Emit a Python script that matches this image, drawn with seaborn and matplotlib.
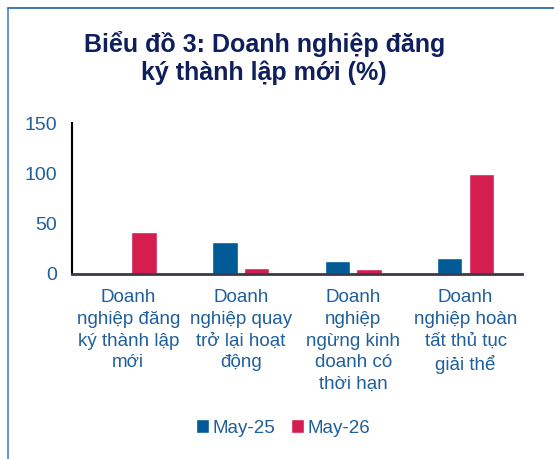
import pandas as pd
import matplotlib
matplotlib.use("Agg")
import matplotlib.pyplot as plt
import seaborn as sns
from matplotlib.lines import Line2D

categories = [
    "Doanh\nnghiệp đăng\nký thành lập\nmới",
    "Doanh\nnghiệp quay\ntrở lại hoạt\nđộng",
    "Doanh\nnghiệp\nngừng kinh\ndoanh có\nthời hạn",
    "Doanh\nnghiệp hoàn\ntất thủ tục\ngiải thể",
]
may25 = [0.3, 32, 12.5, 15.5]
may26 = [42, 5.5, 5, 99.5]
series = ["May-25", "May-26"]

df = pd.DataFrame({
    "cat": categories * 2,
    "val": may25 + may26,
    "series": [series[0]] * 4 + [series[1]] * 4,
})

sns.set_style("white")
plt.rcParams["font.family"] = ["Liberation Sans", "DejaVu Sans"]

blue_txt = "#1F5F9B"
pal = {"May-25": "#005A96", "May-26": "#D41E50"}

fig = plt.figure(figsize=(5.54, 4.59), dpi=100)
ax = fig.add_axes([0.130, 0.4037, 0.812, 0.3283])

sns.barplot(data=df, x="cat", y="val", hue="series", palette=pal,
            width=0.56, gap=0.2, ax=ax, saturation=1)

ax.set_ylim(0, 150)
ax.set_yticks([0, 50, 100, 150])
ax.set_xlabel("")
ax.set_ylabel("")
for s in ["top", "right"]:
    ax.spines[s].set_visible(False)
ax.spines["left"].set_color("black")
ax.spines["left"].set_linewidth(1.5)
ax.spines["bottom"].set_color("#3a3a48")
ax.spines["bottom"].set_linewidth(2)
ax.tick_params(axis="y", direction="inout", length=10, width=1.5, color="black",
               labelsize=14, labelcolor=blue_txt, pad=6)
ax.tick_params(axis="x", length=0, labelsize=13.5, labelcolor=blue_txt, pad=11)
for lbl in ax.get_xticklabels():
    lbl.set_linespacing(1.37)

handles, labels = ax.get_legend_handles_labels()
ax.legend_.remove()
fig.legend(handles, labels, loc="center", bbox_to_anchor=(0.511, 0.0675),
           ncol=2, frameon=False, fontsize=13.5, handlelength=0.7,
           handleheight=0.7, handletextpad=0.2, columnspacing=0.8,
           labelcolor=blue_txt)

fig.text(0.477, 0.874, "Biểu đồ 3: Doanh nghiệp đăng\nký thành lập mới (%)",
         ha="center", va="center", fontsize=18, fontweight="bold",
         color="#0F1F5C", linespacing=1.2)

# khung viền trái và trên
fig.add_artist(Line2D([7.5 / 554, 7.5 / 554], [0, 1 - 8 / 459],
                      transform=fig.transFigure, color="#4A86BF", lw=1.2))
fig.add_artist(Line2D([7.5 / 554, 1], [1 - 8 / 459, 1 - 8 / 459],
                      transform=fig.transFigure, color="#1F64A8", lw=1.2))

fig.savefig("out.png", dpi=100)
